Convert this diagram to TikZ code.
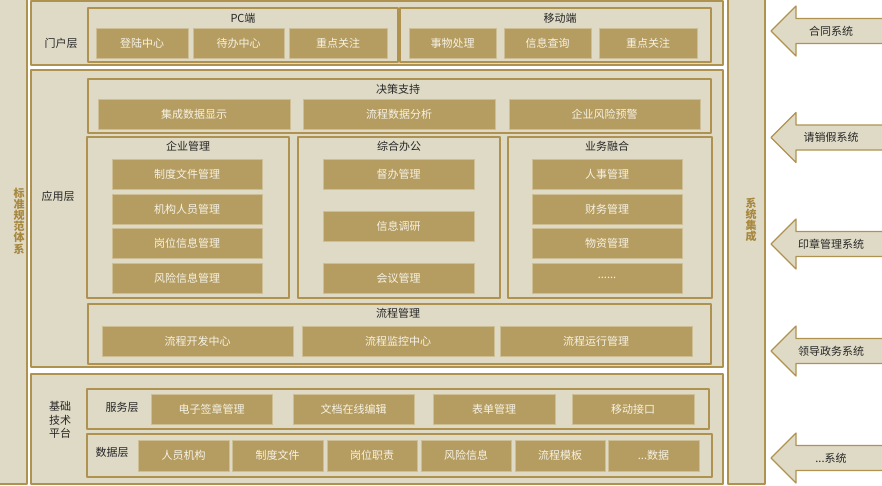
\documentclass[tikz,border=0pt]{standalone}
\usepackage{fontspec}
\setmainfont{Noto Sans CJK SC}
\definecolor{beige}{HTML}{DFDAC6}
\definecolor{gold}{HTML}{B09250}
\definecolor{itemgold}{HTML}{B59D62}
\definecolor{itemedge}{HTML}{CDBF93}
\definecolor{itemtext}{HTML}{F6F2E4}
\definecolor{goldtext}{HTML}{A8883F}
\begin{document}
\begin{tikzpicture}[x=1pt,y=-1pt, font=\fontsize{11}{13}\selectfont, line join=round]
\tikzset{
  frame/.style={draw=gold, fill=beige, line width=1.4pt},
  item/.style={fill=itemgold, draw=itemedge, line width=0.8pt, text=itemtext, inner sep=0pt},
  title/.style={text=black!85, inner sep=1pt},
  vtext/.style={text=goldtext, font=\fontsize{11}{11.2}\selectfont\bfseries, align=center, inner sep=0pt},
  arrowbox/.style={draw=gold, fill=beige, line width=1.2pt}
}
\useasboundingbox (0,0) rectangle (882,485);
\clip (0,0) rectangle (882,485);
% side columns
\draw[frame] (-10,-5) rectangle (27,484);
\node[vtext] (std) at (19,221) {标\\准\\规\\范\\体\\系};
\draw[frame] (728,-5) rectangle (765,484);
\node[vtext] (integ) at (751,220) {系\\统\\集\\成};
% layers
\draw[frame] (31,1) rectangle (723,65);
\draw[frame] (31,70) rectangle (723,367);
\draw[frame] (31,374) rectangle (723,484);
\node[title] (portal) at (61,43) {门户层};
\node[title] (app) at (58,196) {应用层};
\node[title, align=center, font=\fontsize{11}{13.5}\selectfont] (base) at (60,420) {基础\\技术\\平台};
% 门户层
\draw[frame] (88,8) rectangle (398,62);
\node[title] (pc) at (243,18) {PC端};
\foreach \xa/\xb/\t [count=\i] in {96/188/登陆中心, 193/284/待办中心, 289/387/重点关注}
  \node[item, minimum width=\xb-\xa, minimum height=30] (pc\i) at ({(\xa+\xb)/2},43) {\t};
\draw[frame] (400,8) rectangle (711,62);
\node[title] (mobile) at (560,18) {移动端};
\foreach \xa/\xb/\t [count=\i] in {409/496/事物处理, 504/591/信息查询, 599/697/重点关注}
  \node[item, minimum width=\xb-\xa, minimum height=30] (mob\i) at ({(\xa+\xb)/2},43) {\t};
% 应用层
\draw[frame] (88,79) rectangle (711,133);
\node[title] (decide) at (398,89) {决策支持};
\foreach \xa/\xb/\t [count=\i] in {98/290/集成数据显示, 303/495/流程数据分析, 509/700/企业风险预警}
  \node[item, minimum width=\xb-\xa, minimum height=30] (dec\i) at ({(\xa+\xb)/2},114) {\t};
\draw[frame] (87,137) rectangle (289,298);
\node[title] (corp) at (188,146) {企业管理};
\foreach \y/\t [count=\i] in {174/制度文件管理, 209/机构人员管理, 243/岗位信息管理, 278/风险信息管理}
  \node[item, minimum width=150, minimum height=30] (corp\i) at (187,\y) {\t};
\draw[frame] (298,137) rectangle (500,298);
\node[title] (office) at (399,146) {综合办公};
\foreach \y/\t [count=\i] in {174/督办管理, 226/信息调研, 278/会议管理}
  \node[item, minimum width=151, minimum height=30] (off\i) at (398.5,\y) {\t};
\draw[frame] (508,137) rectangle (712,298);
\node[title] (biz) at (607,146) {业务融合};
\foreach \y/\t [count=\i] in {174/人事管理, 209/财务管理, 243/物资管理, 278/{......}}
  \node[item, minimum width=150, minimum height=30] (biz\i) at (607,\y) {\t};
\draw[frame] (88,304) rectangle (711,364);
\node[title] (flow) at (398,313) {流程管理};
\foreach \xa/\xb/\t [count=\i] in {102/293/流程开发中心, 302/494/流程监控中心, 500/692/流程运行管理}
  \node[item, minimum width=\xb-\xa, minimum height=30] (flow\i) at ({(\xa+\xb)/2},341) {\t};
% 基础技术平台
\draw[frame] (87,389) rectangle (709,429);
\node[title] (svc) at (122,407) {服务层};
\foreach \xa/\xb/\t [count=\i] in {151/272/电子签章管理, 293/414/文档在线编辑, 433/555/表单管理, 572/694/移动接口}
  \node[item, minimum width=\xb-\xa, minimum height=30] (svc\i) at ({(\xa+\xb)/2},409) {\t};
\draw[frame] (87,434) rectangle (712,477);
\node[title] (data) at (112,452) {数据层};
\foreach \xa/\xb/\t [count=\i] in {138/229/人员机构, 232/323/制度文件, 327/417/岗位职责, 421/511/风险信息, 515/605/流程模板, 608/699/{...数据}}
  \node[item, minimum width=\xb-\xa, minimum height=31] (data\i) at ({(\xa+\xb)/2},455.5) {\t};
% 外部系统
\foreach \y/\t [count=\i] in {31/合同系统, 137.5/请销假系统, 244/印章管理系统, 351/领导政务系统, 458/{...系统}} {
  \draw[arrowbox] (771,\y) -- (796,\y-25) -- (796,\y-12.5) -- (892,\y-12.5)
    -- (892,\y+12.5) -- (796,\y+12.5) -- (796,\y+25) -- cycle;
  \node[title] (sys\i) at (831,\y) {\t};
}
\end{tikzpicture}
\end{document}
